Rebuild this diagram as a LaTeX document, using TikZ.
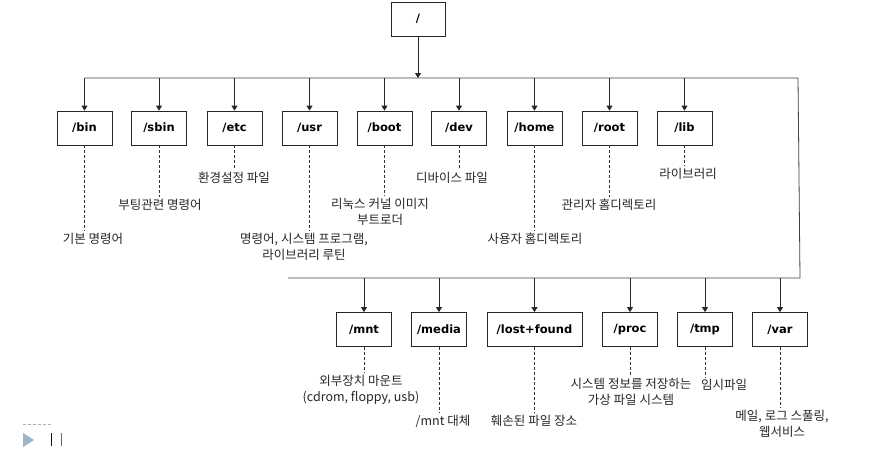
\documentclass[tikz,border=0pt]{standalone}
\usepackage{fontspec}
\newfontfamily\krfont{Noto Sans CJK KR}
\newfontfamily\dirfont{DejaVu Sans}
\usetikzlibrary{arrows.meta}
\definecolor{slidegray}{HTML}{9DB4CC}

\begin{document}
\begin{tikzpicture}[x=1pt, y=-1pt,
  dir/.style={draw=black!85, line width=0.8pt, minimum width=55pt, minimum height=34pt, inner sep=2pt, font=\dirfont\bfseries\fontsize{11.5}{13}\selectfont},
  desc/.style={align=center, inner sep=1pt, font=\krfont\fontsize{12.5}{15.5}\selectfont, text=black!85},
  arrow/.style={-{Triangle[length=5pt, width=6pt]}, line width=0.8pt, draw=black!85},
  bus/.style={line width=0.8pt, draw=black!75},
  leader/.style={dash pattern=on 3pt off 2pt, line width=0.6pt, draw=black!80, shorten >=1pt},
]
\useasboundingbox (0,0) rectangle (880,450);

% === Root and bus ===
\node[dir, minimum width=54pt] (root) at (418,19) {/};
\coordinate (topL) at (84.5,78);
\coordinate (topR) at (798,78);
\coordinate (botR) at (800,278);
\coordinate (botL) at (288,278);
\draw[bus] (topL) -- (topR) -- (botR) -- (botL);
\draw[arrow] (root) -- (root |- topL);

% === Upper row ===
\node[dir] (bin) at (84.5,128) {/bin};
\node[dir] (sbin) at (159,128) {/sbin};
\node[dir] (etc) at (234.5,128) {/etc};
\node[dir] (usr) at (309.5,128) {/usr};
\node[dir] (boot) at (384.5,128) {/boot};
\node[dir] (dev) at (459,128) {/dev};
\node[dir] (home) at (534.5,128) {/home};
\node[dir] (rootdir) at (609.5,128) {/root};
\node[dir] (lib) at (684.5,128) {/lib};

\draw[arrow] (bin |- topL) -- (bin);
\draw[arrow] (sbin |- topL) -- (sbin);
\draw[arrow] (etc |- topL) -- (etc);
\draw[arrow] (usr |- topL) -- (usr);
\draw[arrow] (boot |- topL) -- (boot);
\draw[arrow] (dev |- topL) -- (dev);
\draw[arrow] (home |- topL) -- (home);
\draw[arrow] (rootdir |- topL) -- (rootdir);
\draw[arrow] (lib |- topL) -- (lib);

\node[desc] (binnote) at (93,239) {기본 명령어};
\node[desc] (sbinnote) at (160,205) {부팅관련 명령어};
\node[desc] (etcnote) at (234,178) {환경설정 파일};
\node[desc] (usrnote) at (304,247) {명령어, 시스템 프로그램,\\라이브러리 루틴};
\node[desc] (bootnote) at (380,212) {리눅스 커널 이미지\\부트로더};
\node[desc] (devnote) at (452,178) {디바이스 파일};
\node[desc] (homenote) at (535,239) {사용자 홈디렉토리};
\node[desc] (rootnote) at (609,205) {관리자 홈디렉토리};
\node[desc] (libnote) at (688,174) {라이브러리};

\draw[leader] (bin) -- (bin |- binnote.north);
\draw[leader] (sbin) -- (sbin |- sbinnote.north);
\draw[leader] (etc) -- (etc |- etcnote.north);
\draw[leader] (usr) -- (usr |- usrnote.north);
\draw[leader] (boot) -- (boot |- bootnote.north);
\draw[leader] (dev) -- (dev |- devnote.north);
\draw[leader] (home) -- (home |- homenote.north);
\draw[leader] (rootdir) -- (rootdir |- rootnote.north);
\draw[leader] (lib) -- (lib |- libnote.north);

% === Lower row ===
\node[dir] (mnt) at (364,329.5) {/mnt};
\node[dir] (media) at (439,329.5) {/media};
\node[dir, minimum width=95pt] (lostfound) at (534.5,329.5) {/lost+found};
\node[dir] (proc) at (630,329.5) {/proc};
\node[dir] (tmp) at (705,329.5) {/tmp};
\node[dir] (var) at (780,329.5) {/var};

\draw[arrow] (mnt |- botL) -- (mnt);
\draw[arrow] (media |- botL) -- (media);
\draw[arrow] (lostfound |- botL) -- (lostfound);
\draw[arrow] (proc |- botL) -- (proc);
\draw[arrow] (tmp |- botL) -- (tmp);
\draw[arrow] (var |- botL) -- (var);

\node[desc] (mntnote) at (361,390) {외부장치 마운트\\(cdrom, floppy, usb)};
\node[desc] (medianote) at (443,421) {/mnt 대체};
\node[desc] (lfnote) at (534,421) {훼손된 파일 장소};
\node[desc] (procnote) at (631,392) {시스템 정보를 저장하는\\가상 파일 시스템};
\node[desc] (tmpnote) at (724,385) {임시파일};
\node[desc] (varnote) at (782,424) {메일, 로그 스풀링,\\웹서비스};

\draw[leader] (mnt) -- (mnt |- mntnote.north);
\draw[leader] (media) -- (media |- medianote.north);
\draw[leader] (lostfound) -- (lostfound |- lfnote.north);
\draw[leader] (proc) -- (proc |- procnote.north);
\draw[leader] (tmp) -- (tmp |- tmpnote.north);
\draw[leader] (var) -- (var |- varnote.north);

% === Slide marks ===
\draw[slidegray, dash pattern=on 3pt off 2pt, line width=0.6pt] (23,424) -- (52,424);
\fill[slidegray] (23,433) -- (34,440) -- (23,447) -- cycle;
\draw[blue!60!black, line width=0.8pt] (51.5,433) -- (51.5,446);
\draw[orange!70!black, line width=0.8pt] (61,433) -- (61,446);
\end{tikzpicture}
\end{document}
